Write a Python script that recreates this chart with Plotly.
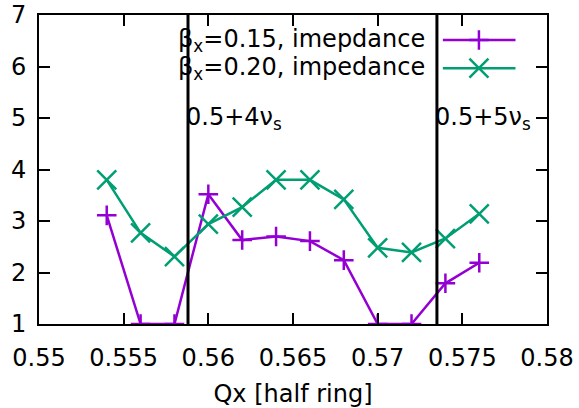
import plotly.graph_objects as go

qx = [0.554, 0.556, 0.558, 0.560, 0.562, 0.564, 0.566, 0.568, 0.570, 0.572, 0.574, 0.576]
beta15 = [3.11, 1.0, 1.0, 3.52, 2.63, 2.70, 2.61, 2.24, 1.0, 1.0, 1.79, 2.19]
beta20 = [3.80, 2.77, 2.31, 2.94, 3.27, 3.80, 3.80, 3.42, 2.48, 2.39, 2.66, 3.14]
nus = 0.0147
res_n = [4, 5]
res_labels = ["0.5+4ν<sub>s</sub>", "0.5+5ν<sub>s</sub>"]
legend_names = ["β<sub>x</sub>=0.15, imepdance", "β<sub>x</sub>=0.20, impedance"]

PURPLE = "#9400d3"
GREEN = "#009e73"
FONT = "DejaVu Sans"
FS = 24

fig = go.Figure()
fig.add_trace(go.Scatter(x=qx, y=beta15, mode="lines+markers",
                         line=dict(color=PURPLE, width=2.5),
                         marker=dict(symbol="cross-thin", size=14, line=dict(color=PURPLE, width=2.5)),
                         showlegend=False))
fig.add_trace(go.Scatter(x=qx, y=beta20, mode="lines+markers",
                         line=dict(color=GREEN, width=2.5),
                         marker=dict(symbol="x-thin", size=19, line=dict(color=GREEN, width=2.5)),
                         showlegend=False))

# custom gnuplot-style legend on an overlay axis (0..1 = plot area)
leg_x0, leg_x1, leg_xm, leg_text = 0.795, 0.938, 0.866, 0.764
leg_y = [0.919, 0.828]
for i, (col, sym, sz) in enumerate([(PURPLE, "cross-thin", 14), (GREEN, "x-thin", 19)]):
    fig.add_trace(go.Scatter(x=[leg_x0, leg_xm, leg_x1], y=[leg_y[i]] * 3, mode="lines+markers",
                             xaxis="x2", yaxis="y2",
                             line=dict(color=col, width=2.5),
                             marker=dict(symbol=sym, size=sz, line=dict(color=col, width=2.5),
                                         opacity=[0, 1, 0]),
                             showlegend=False, hoverinfo="skip"))
    fig.add_annotation(x=leg_text, y=leg_y[i], xref="x2", yref="y2", text=legend_names[i],
                       showarrow=False, xanchor="right", yanchor="middle",
                       font=dict(family=FONT, size=FS, color="black"))

for n, lab in zip(res_n, res_labels):
    xv = 0.5 + n * nus
    fig.add_shape(type="line", x0=xv, x1=xv, y0=0, y1=1, xref="x", yref="paper",
                  line=dict(color="black", width=3))
    fig.add_annotation(x=xv, y=5, xref="x", yref="y", text=lab, showarrow=False,
                       xanchor="left", yanchor="middle", xshift=-4,
                       font=dict(family=FONT, size=FS, color="black"))

axis_common = dict(showgrid=False, zeroline=False, showline=True, linecolor="black",
                   linewidth=2, mirror="ticks", ticks="inside", ticklen=11,
                   tickwidth=1.5, tickcolor="black", automargin=False,
                   ticklabeloverflow="allow",
                   tickfont=dict(family=FONT, size=FS, color="black"))

fig.update_layout(
    width=579, height=408,
    margin=dict(l=39, r=32, t=15, b=84),
    paper_bgcolor="white", plot_bgcolor="white",
    font=dict(family=FONT, size=FS, color="black"),
    xaxis=dict(range=[0.55, 0.58], tickvals=[0.55, 0.555, 0.56, 0.565, 0.57, 0.575, 0.58],
               ticktext=["0.55", "0.555", "0.56", "0.565", "0.57", "0.575", "0.58"],
               title=dict(text="Qx [half ring]", font=dict(family=FONT, size=FS), standoff=14),
               ticklabelstandoff=11,
               **axis_common),
    yaxis=dict(range=[1, 7], tickvals=[1, 2, 3, 4, 5, 6, 7], ticklabelstandoff=6,
               **axis_common),
    xaxis2=dict(overlaying="x", range=[0, 1], visible=False, fixedrange=True),
    yaxis2=dict(overlaying="y", range=[0, 1], visible=False, fixedrange=True),
)

fig.write_html("out.html", config={"displayModeBar": False},
               post_script="document.body.style.margin='0';document.body.style.overflow='hidden';")
